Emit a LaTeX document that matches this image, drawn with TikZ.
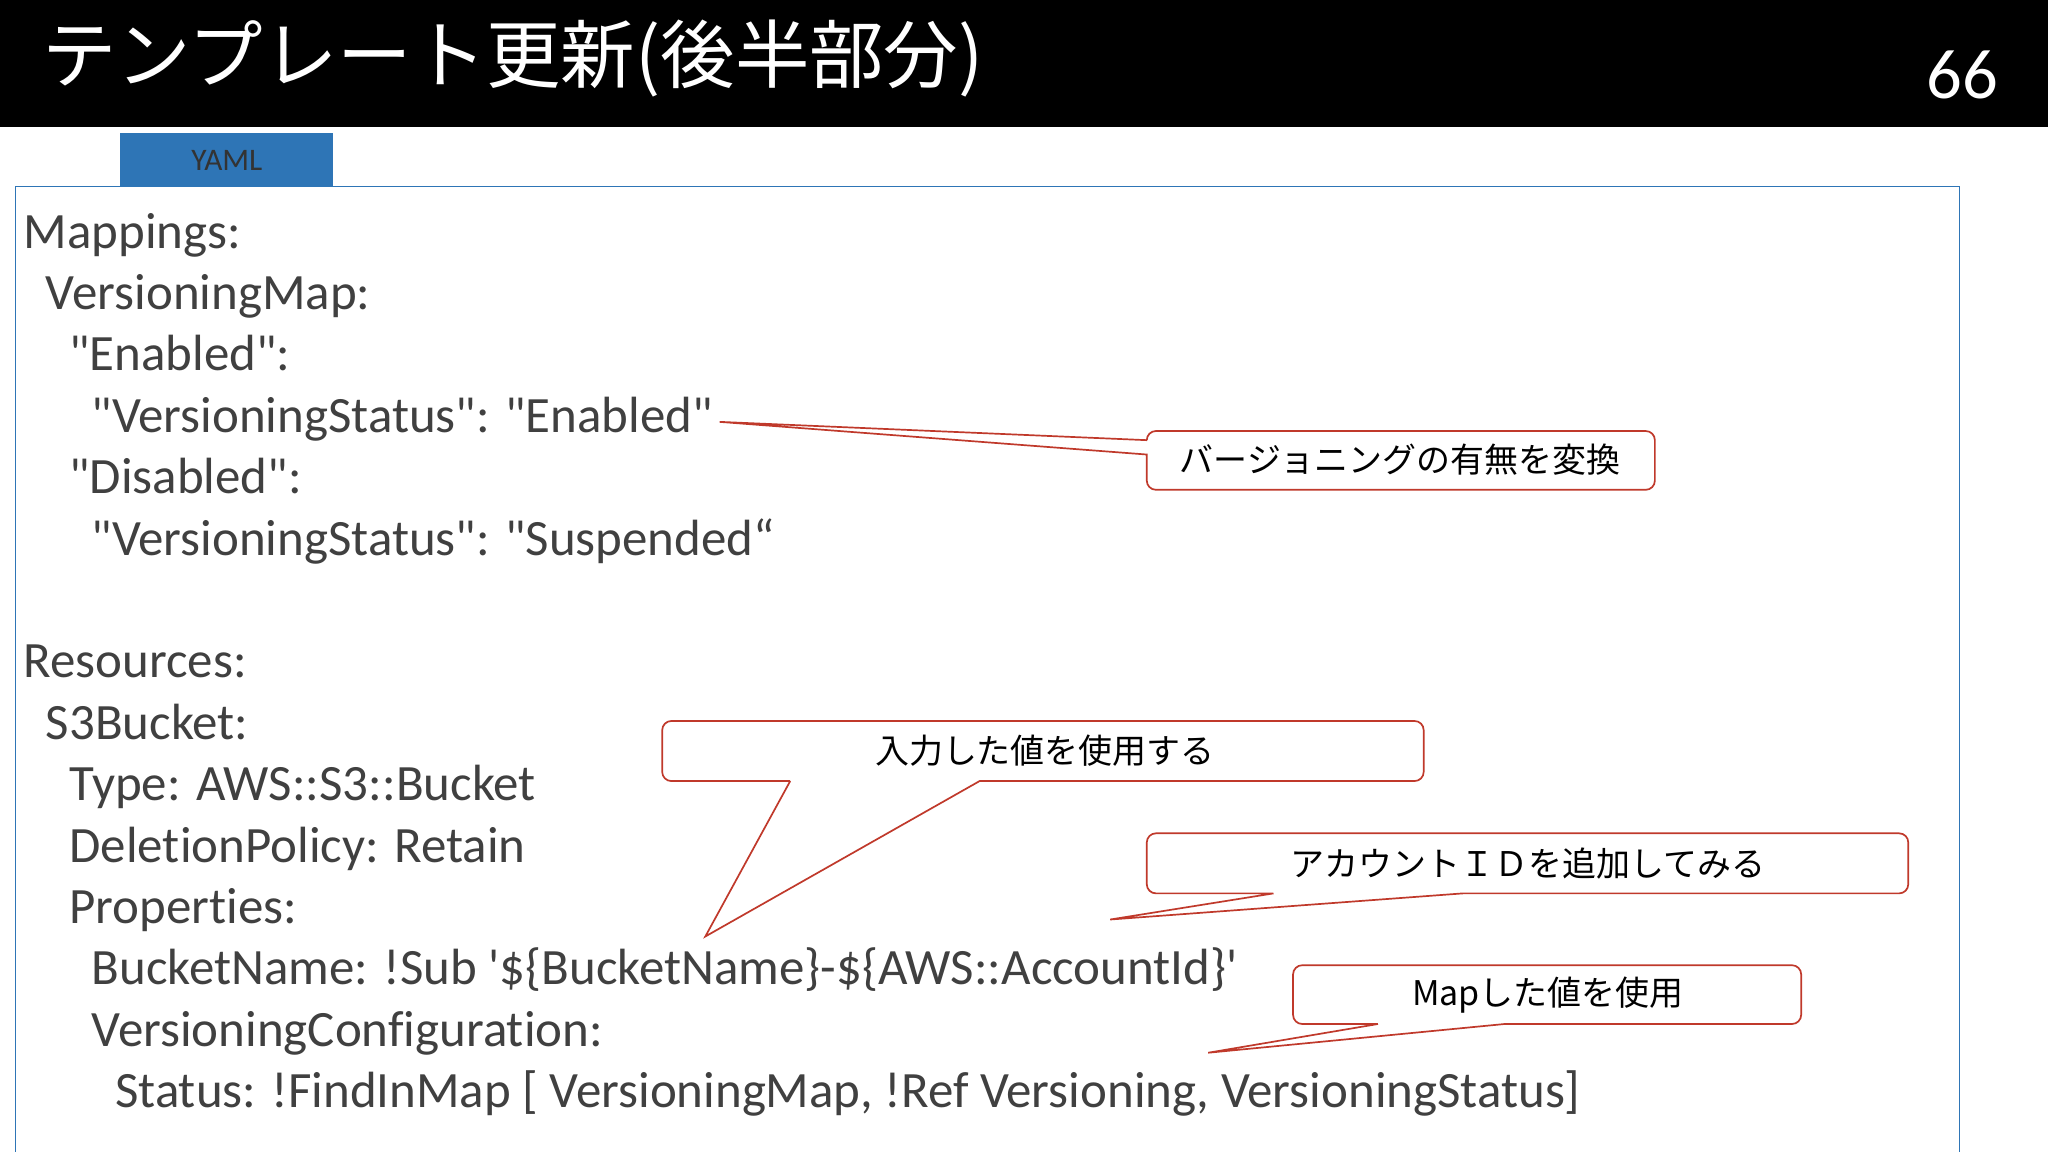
\documentclass[tikz,border=0pt]{standalone}
\usepackage{fontspec}
\setmainfont{Carlito}[Ligatures={TeXOff,CommonOff}]
\newfontfamily\jp{Noto Sans CJK JP}
\definecolor{codegray}{HTML}{404040}
\definecolor{callred}{HTML}{C0392B}
\definecolor{tabblue}{HTML}{2E75B6}
\begin{document}
\begin{tikzpicture}[x=1pt,y=-1pt,
  code/.style={anchor=base west,inner sep=0pt,text=codegray,font=\fontsize{39}{41}\selectfont},
  calltext/.style={inner sep=0pt,font=\fontsize{26}{28}\selectfont\jp},
  callout/.style={draw=callred,line width=1.3pt,fill=white,line join=miter}]
\useasboundingbox (0,0) rectangle (1568,882);
\fill[white] (0,0) rectangle (1568,882);
\fill[black] (0,0) rectangle (1568,97);
\node[anchor=west,text=white,inner sep=0pt,font=\fontsize{57}{59}\selectfont\jp] (title) at (32,45) {テンプレート更新(後半部分)};
\node[anchor=east,text=white,inner sep=0pt,font=\fontsize{54}{56}\selectfont] (pg) at (1530,57) {66};
\draw[tabblue,line width=1pt] (12,143) rectangle (1500,900);
\node[fill=tabblue,minimum width=163pt,minimum height=41pt,anchor=north west,inner sep=0pt,font=\fontsize{24}{26}\selectfont,text=black!80] (tab) at (92,102) {YAML};
% code
\node[code] (l1) at (18,190) {Mappings:};
\node[code] (l2) at (35,237) {VersioningMap:};
\node[code] (l3) at (53,284) {"Enabled":};
\node[code] (l4) at (70,331) {"VersioningStatus": "Enabled"};
\node[code] (l5) at (53,378) {"Disabled":};
\node[code] (l6) at (70,425) {"VersioningStatus": "Suspended“};
\node[code] (l7) at (18,519) {Resources:};
\node[code] (l8) at (35,566) {S3Bucket:};
\node[code] (l9) at (53,613) {Type: AWS::S3::Bucket};
\node[code] (l10) at (53,660) {DeletionPolicy: Retain};
\node[code] (l11) at (53,707) {Properties:};
\node[code] (l12) at (70,754) {BucketName: !Sub '\$\{BucketName\}-\$\{AWS::AccountId\}'};
\node[code] (l13) at (70,801) {VersioningConfiguration:};
\node[code] (l14) at (88,848) {Status: !FindInMap [ VersioningMap, !Ref Versioning, VersioningStatus]};
% callout 1
\coordinate (t1) at (551,323);
\draw[callout] (878,337) -- (t1) -- (878,348) [rounded corners=7pt] -- (878,375) -- (1267,375) -- (1267,330) -- (878,330) [sharp corners] -- (878,337);
\node[calltext] (c1) at (1072,352) {バージョニングの有無を変換};
% callout 2
\coordinate (t2) at (540,717);
\draw[callout] (605,598) -- (t2) -- (750,598) [rounded corners=7pt] -- (1090,598) -- (1090,552) -- (507,552) -- (507,598) [sharp corners] -- (605,598);
\node[calltext] (c2) at (800,575) {入力した値を使用する};
% callout 3
\coordinate (t3) at (850,704);
\draw[callout] (975,684) -- (t3) -- (1120,684) [rounded corners=7pt] -- (1461,684) -- (1461,638) -- (878,638) -- (878,684) [sharp corners] -- (975,684);
\node[calltext] (c3) at (1170,661) {アカウントＩＤを追加してみる};
% callout 4
\coordinate (t4) at (925,806);
\draw[callout] (1055,784) -- (t4) -- (1152,784) [rounded corners=7pt] -- (1379,784) -- (1379,739) -- (990,739) -- (990,784) [sharp corners] -- (1055,784);
\node[calltext] (c4) at (1185,762) {Mapした値を使用};
\end{tikzpicture}
\end{document}
